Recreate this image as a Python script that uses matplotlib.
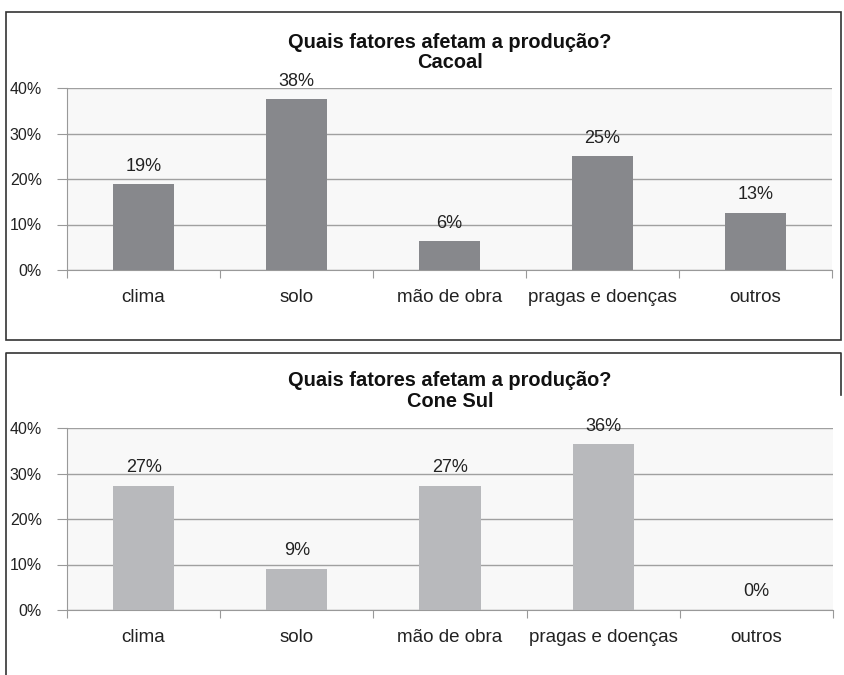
import matplotlib.pyplot as plt
from matplotlib.patches import Rectangle
from matplotlib.lines import Line2D

plt.rcParams['font.family'] = ['Liberation Sans', 'DejaVu Sans']

categories = ['clima', 'solo', 'mão de obra', 'pragas e doenças', 'outros']
cacoal_values = [18.8, 37.5, 6.3, 25.0, 12.5]
cacoal_labels = ['19%', '38%', '6%', '25%', '13%']
conesul_values = [27.3, 9.1, 27.3, 36.4, 0.0]
conesul_labels = ['27%', '9%', '27%', '36%', '0%']
yticks = [0, 10, 20, 30, 40]
ytick_labels = ['0%', '10%', '20%', '30%', '40%']

W, H = 844, 675
fig = plt.figure(figsize=(W / 100, H / 100), dpi=100)


def px_axes(x0, y0, x1, y1):
    # pixel box (top-left origin) -> figure fraction
    return fig.add_axes([x0 / W, 1 - y1 / H, (x1 - x0) / W, (y1 - y0) / H])


def draw_panel(box, title_y, subtitle, values, labels, color):
    ax = px_axes(*box)
    ax.set_facecolor('#f8f8f8')
    x = range(len(categories))
    ax.bar(x, values, width=0.4, color=color, zorder=3)
    for xi, v, lab in zip(x, values, labels):
        ax.annotate(lab, (xi, v), xytext=(0, 7), textcoords='offset points',
                    ha='center', va='bottom', fontsize=13, color='#222222', zorder=4)
    ax.set_xlim(-0.5, len(categories) - 0.5)
    ax.set_ylim(0, 40)
    ax.set_yticks(yticks)
    ax.set_yticklabels(ytick_labels, fontsize=11.5, color='#222222')
    ax.yaxis.grid(True, color='#a0a0a0', linewidth=1, zorder=0)
    ax.set_xticks([i - 0.5 for i in range(len(categories) + 1)])
    ax.set_xticklabels([])
    ax.set_xticks(list(x), minor=True)
    ax.set_xticklabels(categories, minor=True, fontsize=13.5, color='#222222')
    ax.tick_params(axis='x', which='minor', length=0, pad=14)
    ax.tick_params(axis='x', which='major', length=6, color='#999999', direction='out')
    ax.tick_params(axis='y', length=7, color='#999999', pad=11)
    for s in ['top', 'right']:
        ax.spines[s].set_visible(False)
    for s in ['left', 'bottom']:
        ax.spines[s].set_color('#999999')
    cx = (box[0] + box[2]) / 2 / W
    fig.text(cx, 1 - title_y / H, 'Quais fatores afetam a produção?', ha='center',
             va='center', fontsize=14.4, fontweight='bold', color='#111111')
    fig.text(cx, 1 - (title_y + 21) / H, subtitle, ha='center', va='center',
             fontsize=14.4, fontweight='bold', color='#111111')
    return ax


draw_panel((67, 88, 832, 270), 42, 'Cacoal', cacoal_values, cacoal_labels, '#87888c')
draw_panel((67, 428, 833, 610), 381, 'Cone Sul', conesul_values, conesul_labels, '#b8b9bc')

# panel frames
fig.add_artist(Rectangle((6 / W, 1 - 340 / H), 835 / W, 328 / H, transform=fig.transFigure,
                         fill=False, edgecolor='#333333', linewidth=1.2))
fig.add_artist(Line2D([6 / W, 6 / W, 841 / W, 841 / W], [0, 1 - 353 / H, 1 - 353 / H, 1 - 395 / H],
                      transform=fig.transFigure, color='#333333', linewidth=1.2))

fig.savefig('out.png', dpi=100)
